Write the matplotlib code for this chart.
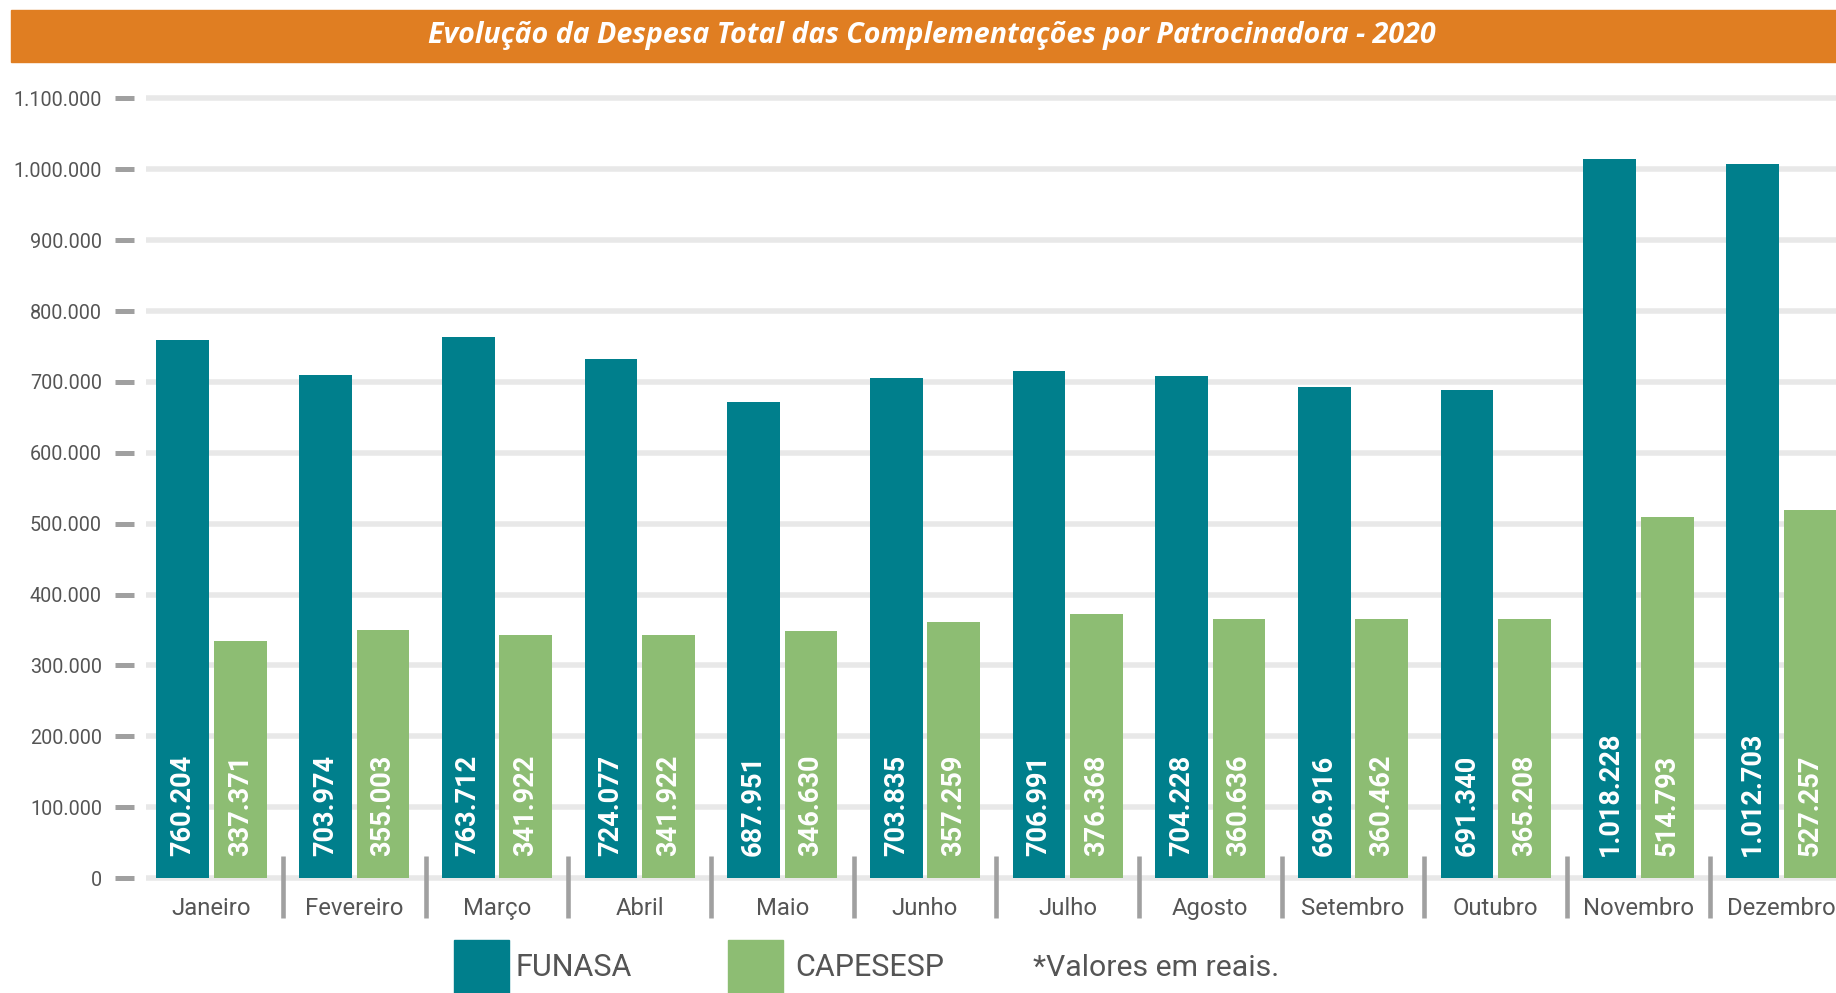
import matplotlib
matplotlib.use("Agg")
import matplotlib.pyplot as plt
from matplotlib.patches import Rectangle
from matplotlib.ticker import FuncFormatter

# ---------------- data ----------------
months = ["Janeiro", "Fevereiro", "Março", "Abril", "Maio", "Junho", "Julho",
          "Agosto", "Setembro", "Outubro", "Novembro", "Dezembro"]
series_names = ["FUNASA", "CAPESESP"]
# bar heights as drawn in the picture
funasa = [759500, 710000, 763000, 733000, 672000, 706000, 716000, 708000,
          693000, 688000, 1015000, 1007000]
capesesp = [335000, 350000, 343000, 343000, 348000, 361000, 373000, 366000,
            365000, 366000, 509000, 519000]
# value labels printed on the bars
funasa_labels = ["760.204", "703.974", "763.712", "724.077", "687.951", "703.835",
                 "706.991", "704.228", "696.916", "691.340", "1.018.228", "1.012.703"]
capesesp_labels = ["337.371", "355.003", "341.922", "341.922", "346.630", "357.259",
                   "376.368", "360.636", "360.462", "365.208", "514.793", "527.257"]
y_ticks = list(range(0, 1100001, 100000))
title = "Evolução da Despesa Total das Complementações por Patrocinadora - 2020"
note = "*Valores em reais."

# ---------------- style ----------------
TEAL = "#007F8C"
GREEN = "#8DBD73"
ORANGE = "#E07E22"
GRID = "#E8E8E8"
TICK = "#A0A0A0"
TXT = "#555555"
FONT = ["Roboto", "DejaVu Sans"]
plt.rcParams["font.family"] = FONT

W, H = 1836, 993
fig = plt.figure(figsize=(W / 100, H / 100), dpi=100)

# axes placement (pixel based)
ax_left, ax_bottom_px, ax_top_px = 146, 892.2, 77.2
ax = fig.add_axes([ax_left / W, 1 - ax_bottom_px / H, (W - ax_left) / W,
                   (ax_bottom_px - ax_top_px) / H])
ax.set_xlim(-0.459, 11.384)
ax.set_ylim(-20000, 1130000)

for v in y_ticks:
    ax.axhline(v, color=GRID, lw=4.0, zorder=0)

w = 0.369
off = 0.201
x = list(range(len(months)))
ax.bar([i - off for i in x], funasa, width=w, color=TEAL, zorder=2,
       label=series_names[0])
ax.bar([i + off for i in x], capesesp, width=w, color=GREEN, zorder=2,
       label=series_names[1])

for i in x:
    ax.text(i - off, 31000, funasa_labels[i], rotation=90, rotation_mode="anchor",
            ha="left", va="center", color="white", fontsize=19.5,
            fontweight="bold", zorder=4)
    ax.text(i + off, 31000, capesesp_labels[i], rotation=90, rotation_mode="anchor",
            ha="left", va="center", color="white", fontsize=19.5,
            fontweight="bold", zorder=4)
    ax.text(i, -51500, months[i], ha="center", va="baseline", fontsize=17.2,
            color=TXT, clip_on=False)

ax.vlines([i + 0.5 for i in x[:-1]], -56500, 31000, colors=TICK, lw=3.3,
          clip_on=False, zorder=3)

for s in ax.spines.values():
    s.set_visible(False)
ax.spines["left"].set_position(("outward", 8.6))
ax.set_xticks([])
ax.set_yticks(y_ticks)
ax.yaxis.set_major_formatter(FuncFormatter(lambda v, p: f"{v:,.0f}".replace(",", ".")))
ax.tick_params(axis="y", length=13.7, width=3.6, color=TICK, pad=9.4,
               labelsize=14.2, labelcolor=TXT)

# title bar
fig.patches.append(Rectangle((11 / W, 1 - 62 / H), (W - 11) / W, 52 / H,
                             transform=fig.transFigure, color=ORANGE, zorder=0))
fig.text(932 / W, 1 - 35 / H, title, ha="center", va="center", color="white",
         fontsize=20.6, fontweight="bold", fontstyle="italic",
         family=["Open Sans", "DejaVu Sans"])

# legend
fig.patches.append(Rectangle((454 / W, 0), 55 / W, (993 - 940) / H,
                             transform=fig.transFigure, color=TEAL))
fig.text(515 / W, 1 - 968 / H, series_names[0], ha="left", va="center",
         fontsize=22, color=TXT, fontweight="normal")
fig.patches.append(Rectangle((728 / W, 0), 55 / W, (993 - 940) / H,
                             transform=fig.transFigure, color=GREEN))
fig.text(795 / W, 1 - 968 / H, series_names[1], ha="left", va="center",
         fontsize=22, color=TXT, fontweight="normal")
fig.text(1033 / W, 1 - 968 / H, note, ha="left", va="center",
         fontsize=21.8, color=TXT)

fig.savefig("out.png", dpi=100)
